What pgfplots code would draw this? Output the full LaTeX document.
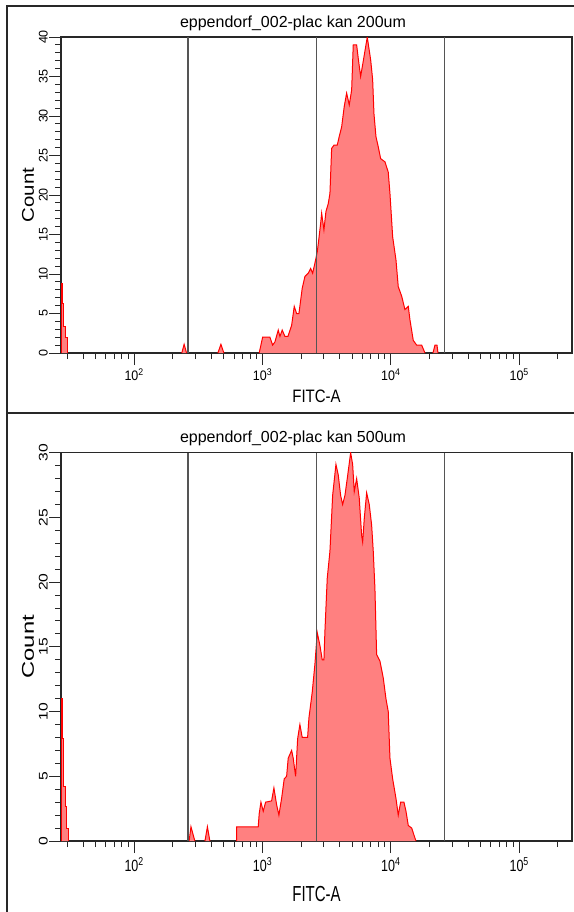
\documentclass[border=0pt]{standalone}
\usepackage{fontspec}
\setmainfont{Liberation Sans}
\usepackage{pgfplots}
\pgfplotsset{compat=1.18}
\definecolor{histfill}{RGB}{255,128,128}
\definecolor{histline}{RGB}{255,0,0}
\definecolor{gatecol}{RGB}{85,85,85}
\definecolor{axcol}{RGB}{40,40,40}

\tikzset{
  flowhist/.style={draw=histline, fill=histfill, line width=1pt},
  gate/.style={gatecol, line width=1.3pt},
}
\newcommand{\tickfont}{\fontsize{12.5}{13}\selectfont}
\newcommand{\labfont}{\fontsize{15}{15}\selectfont}
\pgfplotsset{
  facs/.style={
    scale only axis, width=511pt,
    xmin=26.9, xmax=258000, ymin=0,
    axis line style={line width=1.2pt, axcol},
    every tick/.style={line width=1pt, axcol},
    tick align=outside, xtick pos=bottom, ytick pos=left,
    major tick length=12pt, minor tick length=6pt,
    xtick={100,1000,10000,100000},
    xticklabels={10\textsuperscript{2},10\textsuperscript{3},10\textsuperscript{4},10\textsuperscript{5}},
    minor xtick={30,40,50,60,70,80,90,200,300,400,500,600,700,800,900,
      2000,3000,4000,5000,6000,7000,8000,9000,
      20000,30000,40000,50000,60000,70000,80000,90000,200000},
    minor y tick num=4,
    /pgf/number format/assume math mode=true,
    title style={at={(rel axis cs:0.454,1)}, anchor=base, yshift=4pt, font=\fontsize{16}{16}\selectfont},
    xlabel={FITC-A},
    ylabel={Count},
  },
}

\begin{document}
\begin{tikzpicture}
\path[use as bounding box] (0pt,0pt) rectangle (573pt,-912pt);
\draw[line width=2pt, axcol] (6.5pt,-6.5pt) rectangle (600pt,-413pt);
\draw[line width=2pt, axcol] (6.5pt,-413pt) rectangle (600pt,-930pt);

% top panel
\begin{axis}[xmode=log, facs, at={(61pt,-353pt)}, anchor=south west,
    height=316pt, ymax=40, ytick={0,5,...,40},
    title={eppendorf\_002-plac kan 200um},
    xticklabel style={font=\tickfont, yscale=1.1},
    yticklabel style={font=\tickfont, rotate=90, anchor=south, inner sep=1pt},
    xlabel style={at={(rel axis cs:0.5,0)}, anchor=center, yshift=-43pt,
      font=\labfont, yscale=1.2},
    ylabel style={at={(rel axis cs:-0.0646,0.5)}, anchor=center,
      font=\fontsize{17}{17}\selectfont, xscale=1.2}]
\addplot[flowhist] coordinates {(26.9,0)(26.9,8.8)(27.8,8.8)(27.8,6.3)(28.3,6.3)(28.3,3.3)
  (29.2,3.3)(29.2,1.9)(30.3,1.9)(30.3,0)};
\addplot[flowhist] coordinates {(235,0)(245,1.1)(256,0)};
\addplot[flowhist] coordinates {(449,0)(474,1.1)(500,0)};
\addplot[flowhist] coordinates {(942,0)(1002,2.0)(1142,2.0)(1199,1.0)(1249,1.4)(1326,2.9)
  (1367,2.1)(1424,2.9)(1495,2.1)(1578,2.1)(1686,3.5)(1767,5.9)(1844,5.0)(1922,5.0)
  (2039,8.2)(2141,9.7)(2271,10.1)(2371,10.7)(2458,10.1)(2562,11.4)(2670,12.8)
  (2718,13.8)(2838,16.4)(2889,17.7)(3010,15.6)(3120,17.9)(3252,18.9)(3353,20.2)
  (3456,25.9)(3602,26.3)(3820,26.3)(3960,27.4)(4134,28.6)(4333,31.2)(4524,32.9)
  (4741,31.4)(4950,33.3)(5093,39.0)(5413,39.0)(5571,37.3)(5816,35.0)(6029,36.5)
  (6549,40.0)(6961,37.1)(7215,34.6)(7386,30.3)(7656,27.4)(7978,26.1)(8329,24.6)
  (8995,24.2)(9543,22.9)(9840,20.2)(10330,14.7)(10960,11.8)(11420,8.4)(12140,7.2)
  (12880,5.5)(13670,5.9)(14090,4.2)(14950,1.6)(15890,1.0)(17380,1.0)(18450,0)};
\addplot[flowhist] coordinates {(21290,0)(22070,1.0)(22880,1.0)(23290,0)};
\draw[gate] (axis cs:262.144,0) -- (axis cs:262.144,40);
\draw[gate] (axis cs:2621.44,0) -- (axis cs:2621.44,40);
\draw[gate] (axis cs:26214.4,0) -- (axis cs:26214.4,40);
\end{axis}

% bottom panel
\begin{axis}[xmode=log, facs, at={(61pt,-841pt)}, anchor=south west,
    height=388.3pt, ymax=30, ytick={0,5,...,30},
    title={eppendorf\_002-plac kan 500um},
    xticklabel style={font=\tickfont, yscale=1.3},
    yticklabel style={font=\tickfont, rotate=90, anchor=south, inner sep=1pt, xscale=1.25},
    xlabel style={at={(rel axis cs:0.5,0)}, anchor=center, yshift=-53pt,
      font=\labfont, yscale=1.45},
    ylabel style={at={(rel axis cs:-0.0646,0.5)}, anchor=center,
      font=\fontsize{17}{17}\selectfont, xscale=1.4}]
\addplot[flowhist] coordinates {(26.9,0)(26.9,11.0)(27.8,11.0)(27.8,7.9)(28.3,7.9)(28.3,4.2)
  (29.0,4.2)(29.0,2.7)(29.7,2.7)(29.7,1.0)(30.5,1.0)(30.5,0)};
\addplot[flowhist] coordinates {(268,0)(277,1.1)(297,0)};
\addplot[flowhist] coordinates {(356,0)(372,1.1)(389,0)};
\addplot[flowhist] coordinates {(628,0)(628,1.1)(926,1.1)(942,2.1)(972,3.0)(1013,2.3)
  (1057,3.0)(1177,3.1)(1227,4.1)(1288,2.8)(1342,2.0)(1409,3.3)(1476,4.8)(1541,5.0)
  (1586,6.4)(1686,7.0)(1735,6.4)(1811,5.0)(1878,7.9)(1956,9.0)(2039,8.0)(2246,8.0)
  (2299,9.5)(2440,11.5)(2562,13.7)(2670,16.1)(2802,15.1)(2920,14.0)(3010,14.0)
  (3064,16.2)(3194,20.3)(3353,22.4)(3519,26.7)(3734,29.1)(3890,28.3)(4062,26.7)
  (4210,26.0)(4388,26.7)(4574,28.0)(4861,30.0)(5038,29.1)(5185,27.0)(5414,28.0)
  (5672,26.5)(5922,23.6)(6029,23.1)(6205,24.9)(6478,26.9)(6788,26.0)(7086,24.4)
  (7292,22.4)(7516,19.5)(7749,14.4)(8222,13.9)(8727,12.6)(9158,11.0)(9543,10.0)
  (9840,6.4)(10330,4.8)(10960,3.3)(11420,2.0)(11920,3.0)(12650,3.0)(13120,2.3)
  (13670,1.2)(14530,1.0)(15690,0)};
\draw[gate] (axis cs:262.144,0) -- (axis cs:262.144,30);
\draw[gate] (axis cs:2621.44,0) -- (axis cs:2621.44,30);
\draw[gate] (axis cs:26214.4,0) -- (axis cs:26214.4,30);
\end{axis}
\end{tikzpicture}
\end{document}
